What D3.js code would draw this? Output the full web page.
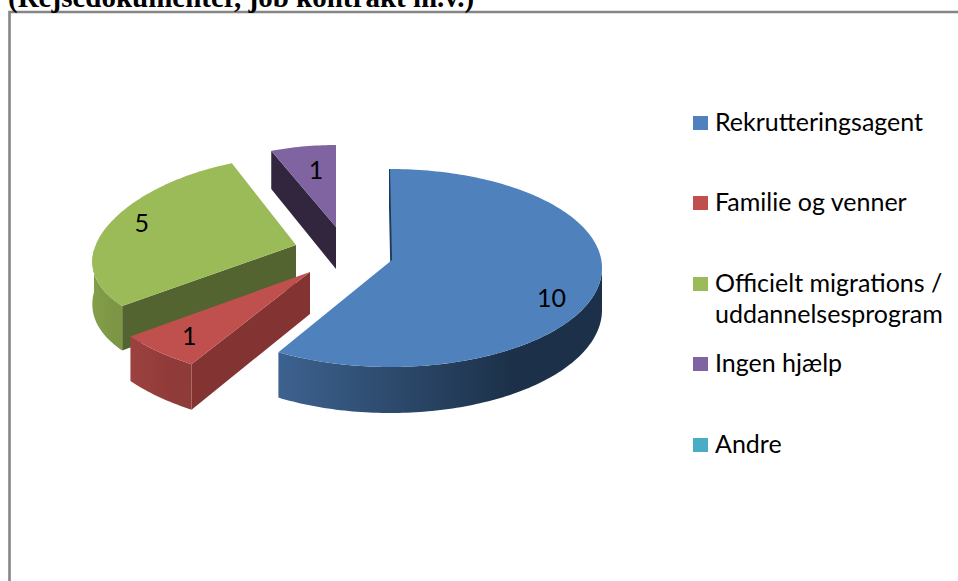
<!DOCTYPE html>
<html><head><meta charset="utf-8">
<script src="https://cdn.jsdelivr.net/npm/d3@7"></script>
<style>html,body{margin:0;padding:0;background:#fff;overflow:hidden}</style>
</head><body><script>
const titleText = "(Rejsedokumenter, job kontrakt m.v.)";
const categories = ["Rekrutteringsagent","Familie og venner","Officielt migrations / uddannelsesprogram","Ingen hjælp","Andre"];
const values = [10,1,5,1,0];
const colors = ["#4f81bd","#c0504d","#9bbb59","#8064a2","#4bacc6"];
const wallColors = ["#1f3a5c","#823332","#546430","#32263f","#2a6d80"];
const outerFrom = ["#3d628f","#9c413f","#849f4b","#66508a","#4bacc6"];
const outerTo = ["#1c3149","#8f3b39","#7c9645","#66508a","#4bacc6"];

// layout of the 3D projection, in pixels, one entry per slice
const apex = [[392,260],[310,272],[296,245],[336,227],[392,260]];
const rimDx = [-2,0,0,0,0];
const rimDy = [8,-3,5,4,0];
const rimRx = [212,225,202,204,0];
const rimRy = [99,112,93,86,0];
const perspX = [0,0,.13,.13,0];
const DEPTH = 42, DEPTH_TILT = 4;
const labelAngle = [112,222.5,290,351,0];
const labelRadius = [.82,.795,.85,.72,0];
const legendY = [123,203,284,364,445];

const W = 958, H = 581;
const svg = d3.select("body").append("svg").attr("width",W).attr("height",H).style("display","block");
const defs = svg.append("defs");

const pie = d3.pie().sort(null).startAngle(0).endAngle(2*Math.PI);
const arcs = pie(values);

function proj(i, a, r, z){
  const X = Math.sin(a), Y = -Math.cos(a);
  const f = 1+perspX[i]*Y;
  return [apex[i][0]+r*(rimDx[i]+rimRx[i]*X*f),
          apex[i][1]+r*(rimDy[i]+rimRy[i]*Y)+(z||0)*(DEPTH+DEPTH_TILT*r*Y)];
}
const line = d3.line();
function samples(a0,a1){
  const n = Math.max(2,Math.ceil(Math.abs(a1-a0)/0.02));
  return d3.range(n+1).map(k=>a0+(a1-a0)*k/n);
}

// frame
svg.append("path").attr("d",`M9.5,${H+5}V12H${W+5}`).attr("fill","none").attr("stroke","#868686").attr("stroke-width",2.6);
svg.append("text").attr("x",8).attr("y",7).attr("font-family","'Liberation Serif'").attr("font-weight","bold")
   .attr("font-size",29).attr("fill","#000").text(titleText);

const pieG = svg.append("g");
[3,2,1,0].forEach(i=>{
  const d = arcs[i]; if(d.endAngle-d.startAngle<=0) return;
  const g = pieG.append("g");
  const a0=d.startAngle,a1=d.endAngle;
  // radial wall along the start edge
  g.append("path").attr("d",line([proj(i,a0,0,0),proj(i,a0,1,0),proj(i,a0,1,1),proj(i,a0,0,1)])+"Z")
    .attr("fill",wallColors[i]).attr("stroke",i===0?wallColors[i]:"none").attr("stroke-width",2);
  // outer wall, front-facing part only
  const f0=Math.max(a0,Math.PI/2), f1=Math.min(a1,3*Math.PI/2);
  if(f1>f0){
    const top=samples(f0,f1).map(a=>proj(i,a,1,0));
    const bot=samples(f1,f0).map(a=>proj(i,a,1,1));
    const gid="wall"+i;
    const xMin=d3.min(top,p=>p[0]), xMax=d3.max(top,p=>p[0]);
    const gr=defs.append("linearGradient").attr("id",gid).attr("gradientUnits","userSpaceOnUse")
      .attr("x1",xMin).attr("x2",xMin+(xMax-xMin)*0.72).attr("y1",0).attr("y2",0);
    gr.append("stop").attr("offset",0).attr("stop-color",outerFrom[i]);
    gr.append("stop").attr("offset",1).attr("stop-color",outerTo[i]);
    g.append("path").attr("d",line(top.concat(bot))+"Z").attr("fill",`url(#${gid})`);
  }
  // top face
  const face=[proj(i,0,0,0)].concat(samples(a0,a1).map(a=>proj(i,a,1,0)));
  g.append("path").attr("d",line(face)+"Z").attr("fill",colors[i]);
});

// data labels
values.forEach((v,i)=>{
  if(!v) return;
  const p=proj(i,labelAngle[i]*Math.PI/180,labelRadius[i],0);
  svg.append("text").attr("x",p[0]).attr("y",p[1]).attr("text-anchor","middle").attr("dominant-baseline","central")
    .attr("font-family","Lato").attr("font-size",25).attr("fill","#000").text(v);
});

// legend
const legendLines = [["Rekrutteringsagent"],["Familie og venner"],["Officielt migrations /","uddannelsesprogram"],["Ingen hjælp"],["Andre"]];
categories.forEach((c,i)=>{
  const y=legendY[i];
  svg.append("rect").attr("x",693).attr("y",y-7).attr("width",15).attr("height",14).attr("fill",colors[i]);
  const t=svg.append("text").attr("font-family","Lato").attr("font-size",25).attr("fill","#000");
  legendLines[i].forEach((l,k)=>t.append("tspan").attr("x",715).attr("y",y+8+k*31).text(l));
});
</script></body></html>
